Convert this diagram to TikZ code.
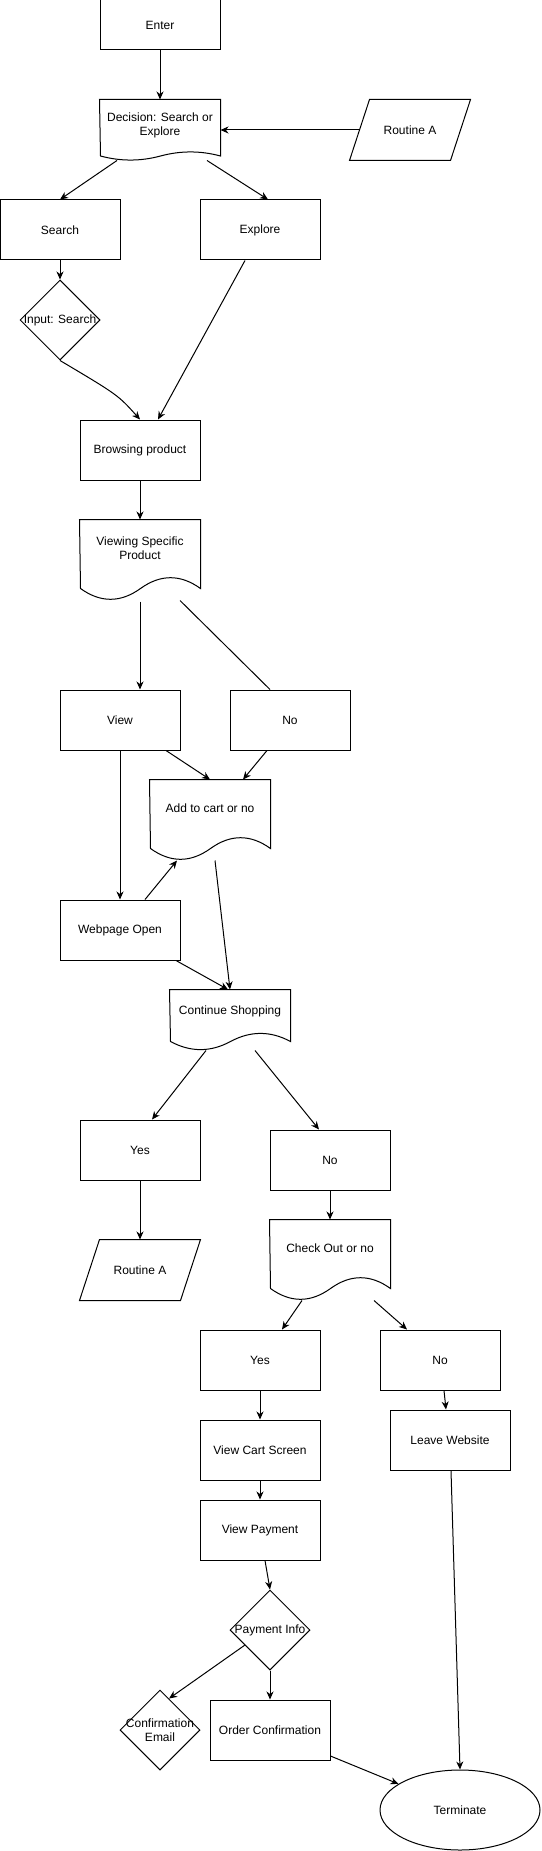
\documentclass[tikz,border=0pt]{standalone}
\usepackage{fontspec}
\setmainfont{Liberation Sans}
\usetikzlibrary{arrows.meta,shapes.geometric}

\tikzset{
  box/.style={draw, minimum width=120pt, minimum height=60pt, inner sep=0pt, align=center},
  docbox/.style={minimum width=120pt, minimum height=#1, inner sep=0pt},
  iobox/.style={minimum width=120pt, minimum height=60pt, inner sep=0pt},
  choice/.style={draw, diamond, minimum width=80pt, minimum height=80pt, inner sep=0pt},
  terminal/.style={draw, ellipse, minimum width=160pt, minimum height=80pt, inner sep=0pt},
}

% outline of a document shape: node name, depth of the wave
\newcommand{\docwave}[2]{%
  \draw (#1.north west) -- (#1.north east) -- ([shift={(0,-#2/2)}]#1.south east)
    .. controls ([shift={(-20,-1.1*#2)}]#1.south east) and ([shift={(-40,-1.1*#2)}]#1.south east)
    .. ([shift={(-60,-#2/2)}]#1.south east)
    .. controls ([shift={(-80,0.1*#2)}]#1.south east) and ([shift={(-100,0.1*#2)}]#1.south east)
    .. ([shift={(-120,-#2/2)}]#1.south east) -- cycle;
}
% outline of a slanted input box
\newcommand{\ioslant}[1]{%
  \draw (#1.south west) -- ([xshift=-20pt]#1.south east) -- (#1.north east)
    -- ([xshift=20pt]#1.north west) -- cycle;
}

\begin{document}
\begin{tikzpicture}[x=1pt, y=-1pt, line width=1pt, font=\fontsize{12}{14}\selectfont,
    >={Stealth[length=8pt,width=7pt,inset=2.5pt]}]
        \path[fill=white] (0,0) rectangle (541,1851);
        \useasboundingbox (0,0) rectangle (541,1851);

        \node[box, minimum height=50pt] (enter) at (160,25) {Enter};
        \node[docbox=60pt, label={[align=center, yshift=4.5pt]center:{Decision: Search or\\Explore}}] (decide) at (160,130) {};
        \docwave{decide}{9}
        \node[iobox] (routinea) at (410,130) {Routine A};
        \ioslant{routinea}
        \node[box] (search) at (60,230) {Search};
        \node[box] (explore) at (260,230) {Explore};
        \node[choice, label=center:{Input: Search}] (input) at (60,320) {};
        \node[box] (browse) at (140,450) {Browsing product};
        \node[docbox=80pt, label={[align=center, yshift=12pt]center:{Viewing Specific\\Product}}] (viewing) at (140,560) {};
        \docwave{viewing}{24}
        \node[box] (view) at (120,720) {View};
        \node[box] (viewno) at (290,720) {No};
        \node[docbox=80pt, label={[yshift=12pt]center:{Add to cart or no}}] (addcart) at (210,820) {};
        \docwave{addcart}{24}
        \node[box] (webpage) at (120,930) {Webpage Open};
        \node[docbox=60pt, label={[yshift=9pt]center:{Continue Shopping}}] (continue) at (230,1020) {};
        \docwave{continue}{18}
        \node[box] (contyes) at (140,1150) {Yes};
        \node[box] (contno) at (330,1160) {No};
        \node[iobox] (routineb) at (140,1270) {Routine A};
        \ioslant{routineb}
        \node[docbox=80pt, label={[yshift=12pt]center:{Check Out or no}}] (checkout) at (330,1260) {};
        \docwave{checkout}{24}
        \node[box] (checkyes) at (260,1360) {Yes};
        \node[box] (checkno) at (440,1360) {No};
        \node[box] (cart) at (260,1450) {View Cart Screen};
        \node[box] (payment) at (260,1530) {View Payment};
        \node[choice, label=center:{Payment Info}] (payinfo) at (270,1630) {};
        \node[choice, label={[align=center]center:{Confirmation\\Email}}] (email) at (160,1730) {};
        \node[box] (order) at (270,1730) {Order Confirmation};
        \node[box] (leave) at (450,1440) {Leave Website};
        \node[terminal] (terminate) at (460,1810) {Terminate};

        \path [->] (enter) edge (decide);
        \path [->] ([xshift=10pt]routinea.west) edge (decide.east);
        \path [->] ([xshift=-43pt]decide.south) edge (search.north);
        \path [->] ([xshift=47pt]decide.south) edge ([xshift=8pt]explore.north);
        \path [->] (search) edge (input);
        \draw [->] (input.south) .. controls (118,395) .. (browse.north);
        \path [->] ([xshift=-15pt]explore.south) edge ([xshift=18pt]browse.north);
        \path [->] (browse) edge (viewing);

        \path [->] ([yshift=-1pt]viewing.south) edge ([xshift=20pt]view.north);
        \draw ([xshift=40pt]viewing.south) -- ([xshift=-20pt]viewno.north);
        \path [->] ([xshift=46pt]view.south) edge (addcart.north);
        \path [->] ([xshift=-23pt]viewno.south) edge ([xshift=33pt]addcart.north);
        \path [->] (view) edge (webpage);
        \path [->] ([xshift=25pt]webpage.north) edge ([xshift=-33pt]addcart.south);
        \path [->] ([xshift=5pt]addcart.south) edge (continue.north);
        \path [->] ([xshift=56pt]webpage.south) edge ([xshift=-2pt]continue.north);

        \path [->] ([xshift=-24pt]continue.south) edge ([xshift=12pt]contyes.north);
        \path [->] ([xshift=25pt]continue.south) edge ([xshift=-11pt]contno.north);
        \path [->] (contyes) edge (routineb);
        \path [->] (contno) edge (checkout);
        \path [->] ([xshift=-28pt]checkout.south) edge ([xshift=22pt]checkyes.north);
        \path [->] ([xshift=44pt]checkout.south) edge ([xshift=-33pt]checkno.north);
        \path [->] (checkyes) edge (cart);
        \path [->] (cart) edge (payment);
        \path [->] ([xshift=5pt]payment.south) edge (payinfo.north);
        \path [->] (payinfo.211) edge (email.74);
        \path [->] (payinfo) edge (order);
        \path [->] ([xshift=4pt]checkno.south) edge ([xshift=-4pt]leave.north);
        \path [->] ([xshift=1pt]leave.south) edge (terminate.north);
        \path [->] ([yshift=-26pt]order.east) edge (terminate.157);
    \end{tikzpicture}
\end{document}
